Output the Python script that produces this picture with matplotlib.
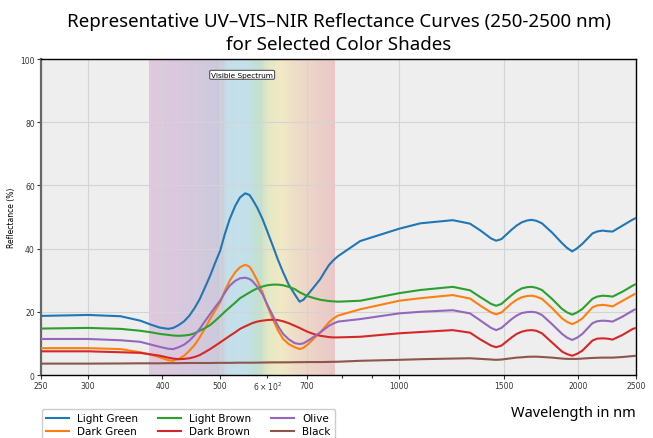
import numpy as np
import matplotlib
matplotlib.use("Agg")
import matplotlib.pyplot as plt
from matplotlib.colors import LinearSegmentedColormap

# ---------------- data ----------------
wavelength = [250, 300, 340, 367,
              383, 396, 409, 417, 426, 435, 444, 453, 462, 471, 481, 490, 500, 509, 519, 530,
              540, 551, 560, 566, 577, 589, 600, 613, 625, 638, 652, 667, 680, 690, 703, 720,
              737, 750, 762, 775, 789,
              860, 1000, 1085, 1230, 1315, 1370, 1427, 1455, 1485, 1545, 1575, 1606, 1640,
              1670, 1700, 1737, 1806, 1878, 1915, 1953, 1990, 2031, 2112, 2150, 2196, 2240,
              2283, 2374, 2469, 2500]

light_green = [18.7, 19.0, 18.6, 17.2,
               15.9, 15.0, 14.6, 14.9, 15.8, 17.0, 18.8, 21.2, 24.0, 27.5, 31.4, 35.3, 39.3, 44.5, 49.4, 53.5,
               56.2, 57.5, 57.0, 55.7, 53.0, 49.4, 45.5, 40.9, 36.6, 32.5, 28.6, 25.6, 23.2, 23.8, 25.6, 28.0,
               30.4, 32.8, 34.8, 36.3, 37.6,
               42.4, 46.3, 48.0, 49.0, 47.9, 45.7, 43.2, 42.5, 43.0, 46.0, 47.3, 48.3, 48.9,
               49.1, 48.8, 48.0, 45.1, 41.7, 40.2, 39.1, 40.1, 41.5, 44.8, 45.4, 45.7, 45.5,
               45.4, 47.3, 49.2, 49.7]
dark_green = [8.5, 8.5, 8.2, 7.2,
              6.4, 5.6, 4.7, 4.5, 5.1, 6.1, 7.7, 9.5, 11.9, 14.6, 17.7, 20.3, 23.0, 26.6, 29.9, 32.5,
              34.1, 34.9, 34.3, 33.0, 30.0, 26.2, 22.0, 17.7, 14.2, 11.4, 9.8, 8.8, 8.2, 8.6, 9.8, 11.7,
              13.5, 15.2, 16.7, 17.9, 18.8,
              20.8, 23.5, 24.3, 25.3, 24.2, 21.9, 19.8, 19.2, 19.8, 22.7, 23.8, 24.6, 25.0,
              25.1, 24.8, 24.1, 21.2, 17.9, 16.8, 16.1, 16.8, 17.9, 21.4, 22.0, 22.2, 22.0,
              21.7, 23.5, 25.3, 25.8]
light_brown = [14.7, 14.9, 14.6, 14.0,
               13.5, 13.0, 12.7, 12.5, 12.4, 12.5, 12.7, 13.2, 14.0, 14.8, 15.8, 17.1, 18.6, 20.0, 21.4, 22.9,
               24.3, 25.3, 26.1, 26.6, 27.4, 28.0, 28.4, 28.6, 28.6, 28.4, 27.9, 27.2, 26.2, 25.6, 24.9, 24.3,
               23.8, 23.6, 23.4, 23.3, 23.2,
               23.5, 25.9, 26.9, 27.9, 26.8, 24.6, 22.5, 21.9, 22.5, 25.3, 26.5, 27.4, 27.8,
               27.9, 27.6, 26.9, 24.1, 20.9, 19.8, 19.1, 19.8, 20.9, 24.1, 24.8, 25.1, 25.0,
               24.8, 26.4, 28.3, 28.8]
dark_brown = [7.5, 7.5, 7.2, 7.0,
              6.5, 6.1, 5.5, 5.2, 5.0, 5.1, 5.3, 5.7, 6.3, 7.2, 8.2, 9.2, 10.3, 11.3, 12.4, 13.5,
              14.6, 15.4, 16.0, 16.4, 16.9, 17.2, 17.4, 17.5, 17.4, 17.0, 16.4, 15.6, 14.9, 14.3, 13.6, 12.9,
              12.4, 12.2, 12.0, 11.9, 11.9,
              12.1, 13.2, 13.6, 14.2, 13.4, 11.2, 9.3, 8.8, 9.3, 11.9, 13.0, 13.7, 14.1,
              14.2, 14.0, 13.2, 10.3, 7.4, 6.6, 6.1, 6.7, 7.7, 10.9, 11.5, 11.6, 11.5,
              11.2, 12.7, 14.6, 14.9]
olive = [11.4, 11.4, 11.0, 10.5,
         9.6, 8.9, 8.3, 8.2, 8.8, 9.6, 10.9, 12.6, 14.6, 16.9, 19.3, 21.4, 23.5, 26.0, 28.3, 29.8,
         30.6, 30.8, 30.4, 29.8, 28.0, 25.6, 22.3, 18.8, 15.6, 13.0, 11.3, 10.1, 9.8, 10.0, 10.9, 12.2,
         13.5, 14.6, 15.6, 16.3, 16.9,
         17.7, 19.5, 20.0, 20.5, 19.5, 17.2, 14.9, 14.2, 14.9, 17.7, 18.8, 19.6, 19.9,
         20.0, 19.8, 19.0, 16.1, 13.0, 11.8, 11.1, 11.8, 13.0, 16.4, 17.0, 17.2, 17.1,
         16.9, 18.5, 20.4, 20.9]
black = [3.6, 3.6, 3.65, 3.7,
         3.7, 3.7, 3.75, 3.75, 3.75, 3.78, 3.8, 3.8, 3.8, 3.8, 3.8, 3.82, 3.85, 3.85, 3.85, 3.88,
         3.9, 3.9, 3.9, 3.9, 3.92, 3.95, 3.97, 4.0, 4.0, 4.0, 4.02, 4.05, 4.05, 4.07, 4.1, 4.1,
         4.1, 4.12, 4.15, 4.18, 4.2,
         4.5, 4.8, 5.0, 5.2, 5.3, 5.1, 4.9, 4.8, 4.9, 5.3, 5.5, 5.6, 5.75,
         5.8, 5.8, 5.7, 5.5, 5.2, 5.1, 5.1, 5.1, 5.2, 5.4, 5.45, 5.5, 5.5,
         5.5, 5.7, 6.0, 6.1]

series_names = ["Light Green", "Dark Green", "Light Brown", "Dark Brown", "Olive", "Black"]
series_values = [light_green, dark_green, light_brown, dark_brown, olive, black]
series_colors = ["#1f77b4", "#ff7f0e", "#2ca02c", "#d62728", "#9467bd", "#8c564b"]

x_ticks = [250, 300, 400, 500, 700, 1000, 1500, 2000, 2500]
x_ticklabels = ["250", "300", "400", "500", "700", "1000", "1500", "2000", "2500"]
y_ticks = [0, 20, 40, 60, 80, 100]

visible_range = (380, 780)
# visible-band tint anchors (wavelength, colour as seen on the chart)
band_anchor_wl = [380, 420, 480, 500, 515, 550, 568, 585, 605, 635, 670, 720, 780]
band_anchor_col = ["#e0c8de", "#dac8de", "#cfc9dc", "#ccc9dc", "#c5dfea", "#c3e0ea",
                   "#c2e0da", "#c6e0cc", "#e6e8c4", "#f0e9c4", "#eedcc8", "#ecd2c8", "#eac6c6"]

# ---------------- figure ----------------
fig = plt.figure(figsize=(6.53, 4.39), dpi=100)
ax = fig.add_axes([0.0628, 0.1435, 0.9112, 0.7198])
ax.set_facecolor("#eeeeee")
ax.set_xscale("log")
ax.set_xlim(250, 2500)
ax.set_ylim(0, 100)
ax.set_axisbelow(True)

# visible spectrum gradient
lo, hi = visible_range
pos = [(w - lo) / (hi - lo) for w in band_anchor_wl]
cmap = LinearSegmentedColormap.from_list("vis", list(zip(pos, band_anchor_col)))
edges = np.geomspace(lo, hi, 201)
mids = np.sqrt(edges[:-1] * edges[1:])
ax.pcolormesh(edges, [0, 100], ((mids - lo) / (hi - lo))[None, :], cmap=cmap,
              vmin=0, vmax=1, shading="flat", zorder=0.2,
              antialiased=False, linewidth=0)

ax.grid(True, which="major", color="#d4d4d4", linewidth=0.8)

for name, vals, col in zip(series_names, series_values, series_colors):
    ax.plot(wavelength, vals, color=col, linewidth=1.5, label=name, zorder=3)

ax.set_xticks(x_ticks)
ax.set_xticklabels(x_ticklabels)
ax.set_yticks(y_ticks)
ax.tick_params(axis="both", which="both", labelsize=5.5, colors="#333333", length=3,
               width=0.8, pad=1.5)
ax.tick_params(axis="x", which="minor", length=2)

for s in ["top", "right", "bottom"]:
    ax.spines[s].set_color("black")
    ax.spines[s].set_linewidth(1.0)
ax.spines["left"].set_color("#666666")
ax.spines["left"].set_linewidth(1.6)

ax.set_ylabel("Reflectance (%)", fontsize=5.5, labelpad=3)

ax.text(np.sqrt(lo * hi), 95, "Visible Spectrum", fontsize=5.3, ha="center", va="center",
        bbox=dict(boxstyle="round,pad=0.2", facecolor="white", edgecolor="#555555",
                  linewidth=0.8), zorder=5)

ax.set_title("Representative UV\u2013VIS\u2013NIR Reflectance Curves (250-2500 nm)\nfor Selected Color Shades",
             fontsize=13.5, family="Noto Sans", fontweight="medium", pad=7, linespacing=1.4)

fig.legend(loc="upper left", bbox_to_anchor=(0.0639, 0.066), ncol=3, fontsize=7.5,
           frameon=True, edgecolor="#cccccc", framealpha=1, handlelength=2.2,
           handletextpad=0.8, columnspacing=1.9, labelspacing=0.3, borderpad=0.4,
           borderaxespad=0)

fig.text(0.974, 0.058, "Wavelength in nm", fontsize=10.5, family="Noto Sans",
         ha="right", va="center")

fig.savefig("out.png", dpi=100)
